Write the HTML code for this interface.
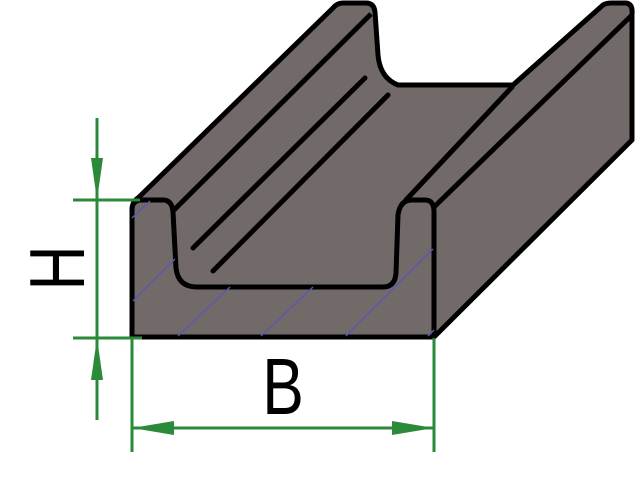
<!DOCTYPE html>
<html><head><meta charset="utf-8"><style>html,body{margin:0;padding:0;background:#fff}svg{display:block}</style></head>
<body>
<svg width="640" height="480" viewBox="0 0 640 480" xmlns="http://www.w3.org/2000/svg">
<rect width="640" height="480" fill="#fff"/>
<path d="M132,337 L132,210 Q132,202 138,198 L333,8 Q337,3 343,3 L366,3 Q374,3 375,12 L378,55 Q380,78 398,85 L513,85 L603,5 Q606,3 612,3 L626,3 Q633,4 632,14 L632,140 L434,337 Z" fill="#726a69" stroke="#000" stroke-width="5" stroke-linejoin="round"/>
<path d="M132,337 L132,210 Q132,200 142,200 L163,200 Q172,200 173,212 L176,268 Q178,287 197,287 L383,287 Q395,287 396,273 L398,215 Q400,200 412,200 L425,200 Q434,200 434,212 L434,337 Z" fill="#726a69" stroke="#000" stroke-width="5" stroke-linejoin="round"/>
<line x1="174" y1="210" x2="371" y2="14" stroke="#000" stroke-width="5"/>
<line x1="434" y1="207" x2="631" y2="16" stroke="#000" stroke-width="5"/>
<line x1="405" y1="201" x2="513" y2="86" stroke="#000" stroke-width="5"/>
<line x1="193" y1="248" x2="365" y2="78" stroke="#000" stroke-width="5" stroke-linecap="round"/>
<line x1="213" y1="271" x2="388" y2="95" stroke="#000" stroke-width="5" stroke-linecap="round"/>
<g stroke="#5a58b0" stroke-width="1.5">
<line x1="132" y1="218" x2="150" y2="201"/>
<line x1="133" y1="301" x2="175" y2="259"/>
<line x1="178" y1="336" x2="230" y2="287"/>
<line x1="261" y1="336" x2="313" y2="287"/>
<line x1="346" y1="336" x2="433" y2="249"/>
<line x1="428" y1="336" x2="434" y2="330"/>
</g>
<g stroke="#2a8a3a" stroke-width="3" fill="#2a8a3a">
<line x1="97" y1="118" x2="97" y2="420"/>
<line x1="73" y1="200" x2="140" y2="200"/>
<line x1="73" y1="338" x2="142" y2="338"/>
<line x1="132" y1="338" x2="132" y2="452"/>
<line x1="434" y1="338" x2="434" y2="452"/>
<line x1="132" y1="428" x2="434" y2="428"/>
<polygon points="91,158 103,158 97,200" stroke="none"/>
<polygon points="91,380 103,380 97,338" stroke="none"/>
<polygon points="174,421 174,435 132,428" stroke="none"/>
<polygon points="392,421 392,435 434,428" stroke="none"/>
</g>
<g transform="translate(84,268) rotate(-90) scale(0.8,1)"><text x="0" y="0" text-anchor="middle" font-family="Liberation Sans, sans-serif" font-size="78" fill="#000">H</text></g>
<g transform="translate(283,414) scale(0.78,1)"><text x="0" y="0" text-anchor="middle" font-family="Liberation Sans, sans-serif" font-size="80" fill="#000">B</text></g>
</svg>
</body></html>
